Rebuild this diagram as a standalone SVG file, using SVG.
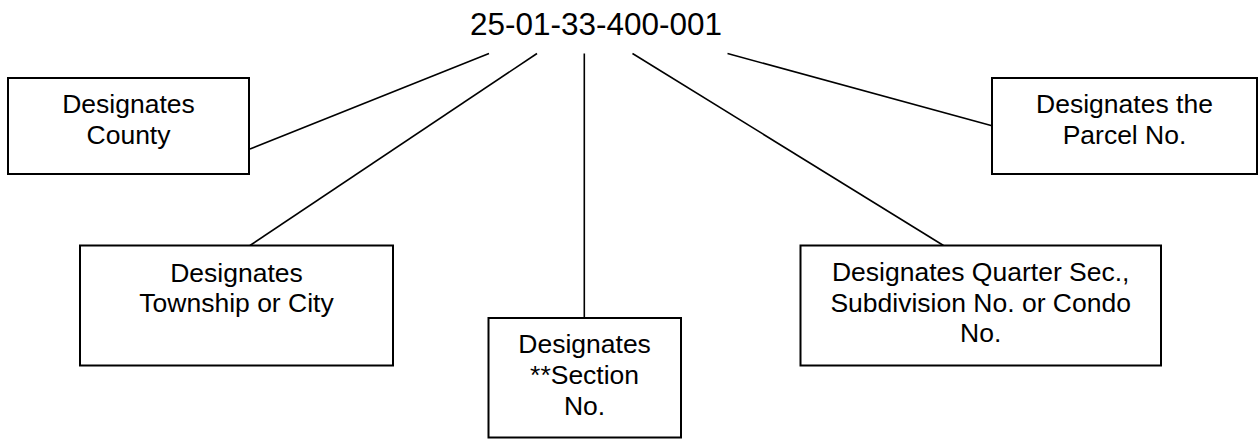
<svg xmlns="http://www.w3.org/2000/svg" width="1259" height="439" viewBox="0 0 1259 439">
<style>
.box{fill:#fff;stroke:#000;stroke-width:2}
.t{font-family:"Liberation Sans",Arial,sans-serif;font-size:26.5px;fill:#000;text-anchor:middle}
.title{font-family:"Liberation Sans",Arial,sans-serif;font-size:32px;fill:#000;text-anchor:middle}
.c line{stroke:#000;stroke-width:1.6}
</style>
<rect width="1259" height="439" fill="#fff"/>
<g id="title"><text class="title" x="596" y="35" textLength="252" lengthAdjust="spacingAndGlyphs">25-01-33-400-001</text></g>
<g class="c" id="connectors">
<line x1="250" y1="149" x2="489" y2="53.5"/>
<line x1="250" y1="245.5" x2="537" y2="53.5"/>
<line x1="584.3" y1="53.5" x2="584.3" y2="318"/>
<line x1="632.5" y1="53.5" x2="943.5" y2="245.5"/>
<line x1="727.5" y1="53.5" x2="992" y2="125.7"/>
</g>
<g id="county">
<rect class="box" x="8" y="78" width="241" height="96"/>
<text class="t" x="128.5" y="113">Designates</text>
<text class="t" x="128.5" y="144">County</text>
</g>
<g id="parcel">
<rect class="box" x="992" y="78" width="265" height="96"/>
<text class="t" x="1124.5" y="113">Designates the</text>
<text class="t" x="1124.5" y="144">Parcel No.</text>
</g>
<g id="township">
<rect class="box" x="80" y="245.5" width="313" height="120"/>
<text class="t" x="236.5" y="281.5">Designates</text>
<text class="t" x="236.5" y="312.3">Township or City</text>
</g>
<g id="section">
<rect class="box" x="488.5" y="318" width="192.5" height="119.5"/>
<text class="t" x="584.6" y="352.7">Designates</text>
<text class="t" x="584.6" y="384">**Section</text>
<text class="t" x="584.6" y="415">No.</text>
</g>
<g id="quarter">
<rect class="box" x="800.5" y="245.5" width="360.5" height="120"/>
<text class="t" x="980.7" y="281">Designates Quarter Sec.,</text>
<text class="t" x="980.7" y="311.7">Subdivision No. or Condo</text>
<text class="t" x="980.7" y="342.3">No.</text>
</g>
</svg>
